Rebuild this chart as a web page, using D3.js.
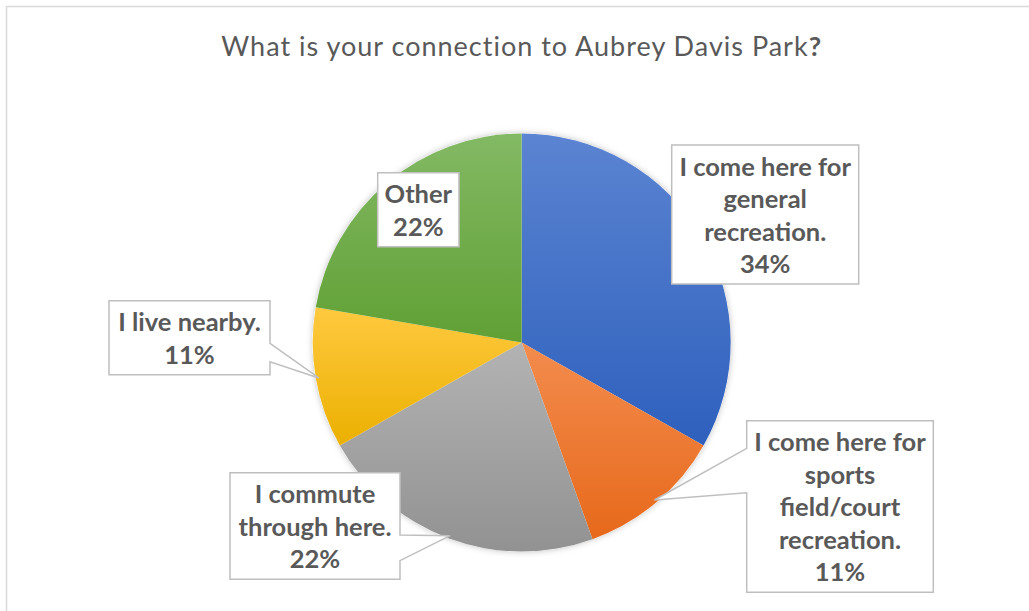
<!DOCTYPE html>
<html>
<head>
<meta charset="utf-8">
<script src="https://cdn.jsdelivr.net/npm/d3@7"></script>
<style>
  html, body { margin: 0; padding: 0; background: #fff; }
  svg { display: block; }
</style>
</head>
<body>
<svg id="chart" width="1029" height="611"></svg>
<script>
// ---- data ----
const title = "What is your connection to Aubrey Davis Park";
const categories = [
  "I come here for general recreation.",
  "I come here for sports field/court recreation.",
  "I commute through here.",
  "I live nearby.",
  "Other"
];
const values = [33.2, 11.3, 22.3, 10.9, 22.3];
const percentLabels = ["34%", "11%", "22%", "11%", "22%"];
const colorsTop = ["#5B84D2", "#F38C4E", "#B3B3B3", "#FFC940", "#83B964"];
const colorsBottom = ["#2E60BD", "#E7691B", "#929292", "#EBB000", "#60A034"];

// ---- layout ----
const W = 1029, H = 611;
const cx = 521.7, cy = 342.5, R = 209;
const font = "Lato, 'Open Sans', sans-serif";
const textColor = "#595959";
const lineH = 32.5;
// label boxes: left/top relative to pie centre, width, tail side and tail attach offsets
const labelLayout = [
  { dx: 150, dy: -197.5, w: 187, side: null },
  { dx: 225, dy: 78.2, w: 186.6, side: "left", t1: 27.6, t2: 72 },
  { dx: -291.7, dy: 130.2, w: 170, side: "right", t1: 62.3, t2: 88 },
  { dx: -412.7, dy: -41.8, w: 161, side: "right", t1: 42.6, t2: 61 },
  { dx: -144, dy: -169.8, w: 81.3, side: null }
];

const svg = d3.select("#chart");
const defs = svg.append("defs");

// chart frame
svg.append("rect")
  .attr("x", 6.5).attr("y", 6.5)
  .attr("width", W + 20).attr("height", H + 20)
  .attr("fill", "#fff").attr("stroke", "#D9D9D9").attr("stroke-width", 1.5);

// title
const t = svg.append("text")
  .attr("x", cx).attr("y", 55.7)
  .attr("text-anchor", "middle")
  .attr("font-family", font)
  .attr("font-size", 27)
  .attr("letter-spacing", 1)
  .attr("fill", textColor);
t.append("tspan").text(title);
t.append("tspan").attr("font-weight", "bold").text("?");

// gradients
values.forEach((v, i) => {
  const g = defs.append("linearGradient")
    .attr("id", "grad" + i)
    .attr("x1", 0).attr("y1", 0).attr("x2", 0).attr("y2", 1);
  g.append("stop").attr("offset", "0%").attr("stop-color", colorsTop[i]);
  g.append("stop").attr("offset", "100%").attr("stop-color", colorsBottom[i]);
});

// shadow
const f = defs.append("filter").attr("id", "shadow")
  .attr("x", "-10%").attr("y", "-10%").attr("width", "120%").attr("height", "120%");
f.append("feDropShadow").attr("dx", 0).attr("dy", 0)
  .attr("stdDeviation", 3).attr("flood-color", "#000").attr("flood-opacity", 0.25);

const pie = d3.pie().sort(null).value(d => d)(values);
const arc = d3.arc().innerRadius(0).outerRadius(R);
const edgeArc = d3.arc().innerRadius(R - 3).outerRadius(R - 3);

const pg = svg.append("g").attr("transform", `translate(${cx},${cy})`);
pg.append("circle").attr("r", R).attr("fill", "#fff").attr("filter", "url(#shadow)");
pg.selectAll("path.slice")
  .data(pie)
  .join("path")
  .attr("class", "slice")
  .attr("d", arc)
  .attr("fill", (d, i) => `url(#grad${i})`)
  .attr("stroke", "none");

// labels
const measure = svg.append("text")
  .attr("font-family", font).attr("font-size", 25.5).attr("font-weight", "bold")
  .attr("visibility", "hidden");
function textW(s) { measure.text(s); return measure.node().getComputedTextLength(); }
function wrap(s, maxW) {
  const words = s.split(" ");
  const lines = [];
  let cur = "";
  words.forEach(w => {
    const test = cur ? cur + " " + w : w;
    if (cur && textW(test) > maxW) { lines.push(cur); cur = w; }
    else cur = test;
  });
  if (cur) lines.push(cur);
  return lines;
}

const lg = svg.append("g");
pie.forEach((d, i) => {
  const L = labelLayout[i];
  const lines = wrap(categories[i], L.w - 8).concat([percentLabels[i]]);
  const x0 = cx + L.dx, y0 = cy + L.dy;
  const x1 = x0 + L.w, y1 = y0 + lines.length * lineH + 9;
  let p;
  if (L.side) {
    const tip = edgeArc.centroid(d);
    const tx = cx + tip[0], ty = cy + tip[1];
    if (L.side === "left") {
      p = `M${x0},${y0}H${x1}V${y1}H${x0}V${y0 + L.t2}L${tx},${ty}L${x0},${y0 + L.t1}Z`;
    } else {
      p = `M${x0},${y0}H${x1}V${y0 + L.t1}L${tx},${ty}L${x1},${y0 + L.t2}V${y1}H${x0}Z`;
    }
  } else {
    p = `M${x0},${y0}H${x1}V${y1}H${x0}Z`;
  }
  lg.append("path").attr("d", p)
    .attr("fill", "#fff").attr("stroke", "#BFBFBF").attr("stroke-width", 1.5)
    .attr("stroke-linejoin", "miter");
  const tx = lg.append("text")
    .attr("font-family", font).attr("font-size", 25.5).attr("font-weight", "bold")
    .attr("fill", textColor).attr("text-anchor", "middle");
  lines.forEach((ln, k) => {
    tx.append("tspan")
      .attr("x", (x0 + x1) / 2)
      .attr("y", y0 + 21.7 + k * lineH)
      .attr("dy", "0.35em")
      .text(ln);
  });
});
measure.remove();
</script>
</body>
</html>
